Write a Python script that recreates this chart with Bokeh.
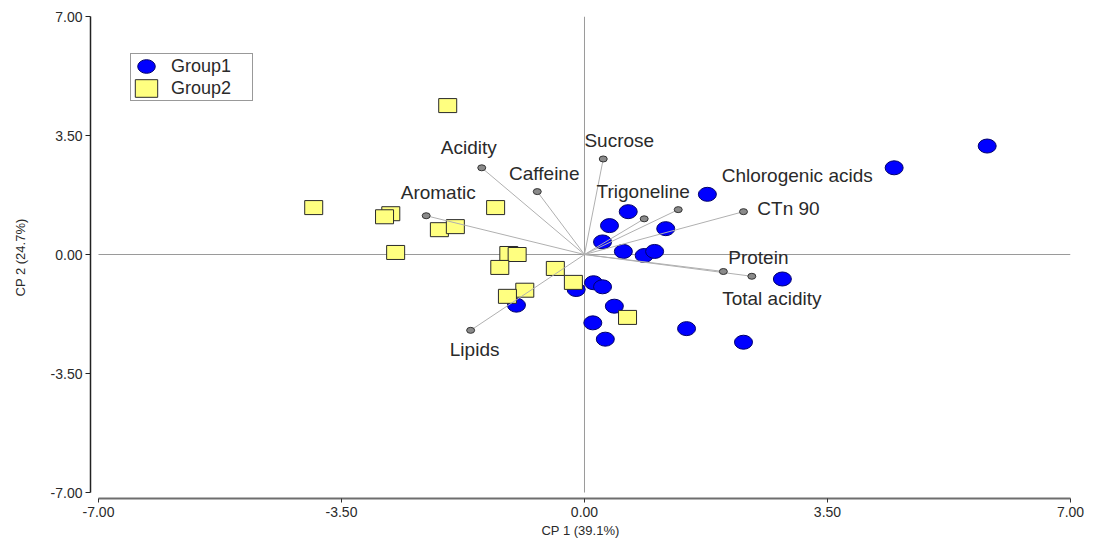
from bokeh.plotting import figure
from bokeh.models import (Range1d, FixedTicker, PrintfTickFormatter, Legend,
                          LegendItem, ColumnDataSource)
from bokeh.core.properties import value
from bokeh.embed import file_html
from bokeh.resources import INLINE

# PCA scores
group1_x = [5.80, 4.46, 1.77, 0.63, 0.36, 1.17, 0.26, 0.56, 0.86, 1.01,
            2.85, 0.13, 0.26, -0.12, 0.43, -0.98, 0.12, 1.47, 0.30, 2.29]
group1_y = [3.19, 2.55, 1.77, 1.26, 0.85, 0.76, 0.37, 0.09, -0.03, 0.09,
            -0.72, -0.83, -0.95, -1.03, -1.52, -1.49, -2.01, -2.18, -2.49, -2.58]

group2_x = [-1.97, -3.90, -2.79, -2.88, -1.28, -2.09, -1.86, -2.72, -1.09, -0.97,
            -1.22, -0.42, -0.16, -0.86, -1.11, 0.62]
group2_y = [4.38, 1.38, 1.20, 1.11, 1.38, 0.73, 0.82, 0.06, 0.03, 0.00,
            -0.38, -0.41, -0.82, -1.05, -1.23, -1.85]

# variable loadings (scaled)
variables = ["Acidity", "Caffeine", "Aromatic", "Sucrose", "Trigoneline",
             "Chlorogenic acids", "CTn 90", "Protein", "Total acidity", "Lipids"]
load_x = [-1.48, -0.68, -2.28, 0.27, 0.86, 1.35, 2.29, 2.00, 2.41, -1.64]
load_y = [2.55, 1.85, 1.14, 2.81, 1.05, 1.32, 1.26, -0.50, -0.64, -2.23]

axis_limits = [-7.0, 7.0]
ticks = [-7.0, -3.5, 0.0, 3.5, 7.0]

# screen offsets of the variable names from their points
label_dx = [-13, 7, 12, 16, -1, 119, 45, 35, 20, 4]
label_dy = [-20, -18, -23, -18, -27, -34, -3, -14, 22, 19]

FONT = "Liberation Sans"
TXT = "#2a2a2a"

p = figure(width=1095, height=540, output_backend="svg", toolbar_location=None,
           x_range=Range1d(-7.115, 7.0), y_range=Range1d(-7.176, 7.0),
           min_border_left=90, min_border_right=25, min_border_top=16,
           min_border_bottom=40)
p.background_fill_color = "white"
p.border_fill_color = "white"
p.outline_line_color = None
p.grid.visible = False

for ax in (p.xaxis[0], p.yaxis[0]):
    ax.ticker = FixedTicker(ticks=ticks)
    ax.formatter = PrintfTickFormatter(format="%.2f")
    ax.bounds = (axis_limits[0], axis_limits[1])
    ax.minor_tick_line_color = None
    ax.major_tick_in = 0
    ax.major_label_text_font = FONT
    ax.major_label_text_font_size = "14px"
    ax.major_label_text_color = TXT
    ax.axis_label_text_font = FONT
    ax.axis_label_text_font_size = "13px"
    ax.axis_label_text_font_style = "normal"
    ax.axis_label_text_color = TXT

p.xaxis.axis_label = "CP 1 (39.1%)"
p.yaxis.axis_label = "CP 2 (24.7%)"
p.xaxis.axis_line_color = "#6e6e6e"
p.xaxis.axis_line_width = 2
p.xaxis.major_tick_line_color = "#333333"
p.xaxis.major_tick_out = 4
p.xaxis.major_label_standoff = 4
p.xaxis.axis_label_standoff = 3
p.yaxis.axis_line_color = "#222222"
p.yaxis.axis_line_width = 1.5
p.yaxis.major_tick_line_color = "#222222"
p.yaxis.major_tick_out = 5
p.yaxis.major_label_standoff = 3
p.yaxis.axis_label_standoff = 20

# zero reference lines
p.segment(x0=[axis_limits[0], 0], y0=[0, axis_limits[0]],
          x1=[axis_limits[1], 0], y1=[0, axis_limits[1]],
          line_color="#9a9a9a", line_width=1)

g1 = p.ellipse(x=group1_x, y=group1_y, width=18, height=14,
               width_units="screen", height_units="screen",
               fill_color="#0000ff", line_color="#00006b", line_width=1)
g2 = p.rect(x=group2_x, y=group2_y, width=18, height=14,
            width_units="screen", height_units="screen",
            fill_color="#ffff80", line_color="#2a2a2a", line_width=1)

# loading vectors
p.segment(x0=[0] * len(load_x), y0=[0] * len(load_y), x1=load_x, y1=load_y,
          line_color="#b0b0b0", line_width=1)
p.ellipse(x=load_x, y=load_y, width=8, height=6,
          width_units="screen", height_units="screen",
          fill_color="#8a8a8a", line_color="#333333", line_width=1)

src = ColumnDataSource(dict(x=load_x, y=load_y, t=variables,
                            dx=label_dx, dy=label_dy))
p.text(x="x", y="y", text="t", x_offset="dx", y_offset="dy", source=src,
       text_align="center", text_baseline="middle",
       text_font=value(FONT), text_font_size="19px", text_color=TXT)

legend = Legend(items=[LegendItem(label="Group1", renderers=[g1]),
                       LegendItem(label="Group2", renderers=[g2])],
                location=(40, 397), padding=1, spacing=0, margin=0,
                glyph_width=28, glyph_height=22, label_height=22,
                label_width=80, label_standoff=11,
                label_text_font=FONT, label_text_font_size="18px",
                label_text_color=TXT,
                border_line_color="#333333", border_line_width=1.5,
                background_fill_color="white", background_fill_alpha=1)
p.add_layout(legend)

open("out.html", "w").write(file_html(p, INLINE))
